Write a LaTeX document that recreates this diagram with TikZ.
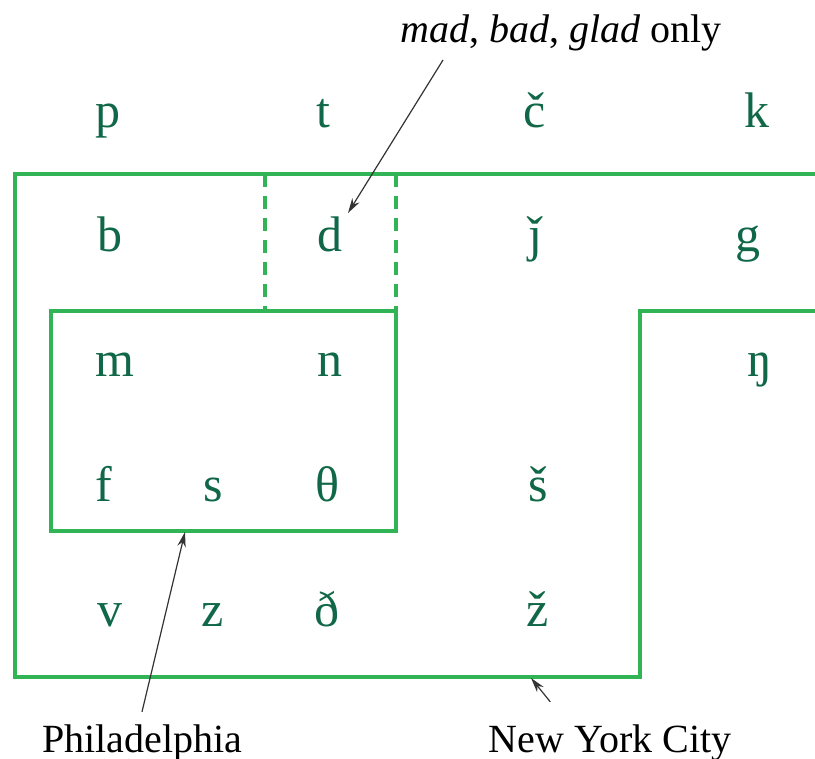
\documentclass[tikz,border=0pt]{standalone}
\usepackage{fontspec}
\setmainfont{Liberation Serif}
\usetikzlibrary{arrows.meta}
\definecolor{regiongreen}{RGB}{48,180,86}
\definecolor{phongreen}{RGB}{16,104,72}

\begin{document}
\begin{tikzpicture}[
  x=0.5pt, y=-0.5pt,
  >={Stealth[length=7.5pt,width=4.2pt]},
  phon/.style={text=phongreen, anchor=base, inner sep=0pt, font=\fontsize{25}{30}\selectfont},
  border/.style={draw=regiongreen, line width=1.7pt},
  gap/.style={border, dash pattern=on 6.5pt off 4.5pt},
  lab/.style={anchor=base, inner sep=1pt, font=\fontsize{20}{24}\selectfont},
  ptr/.style={->, semithick, black!80}
]
\useasboundingbox (0,0) rectangle (815,759);

\draw[border] (815,174) -- (15,174) -- (15,677) -- (640,677) -- (640,311) -- (815,311);
\draw[border] (51,311) rectangle (396,531);
\draw[gap] (265,174) -- (265,311);
\draw[gap] (396,174) -- (396,311);

\node[phon] (p)   at (108,128) {p};
\node[phon] (t)   at (323,128) {t};
\node[phon] (cv)  at (535,128) {č};
\node[phon] (k)   at (757,128) {k};
\node[phon] (b)   at (110,252) {b};
\node[phon] (d)   at (330,252) {d};
\node[phon] (jv)  at (535,252) {ǰ};
\node[phon] (g)   at (748,252) {g};
\node[phon] (m)   at (115,377) {m};
\node[phon] (n)   at (330,377) {n};
\node[phon] (eng) at (760,377) {ŋ};
\node[phon] (f)   at (104,502) {f};
\node[phon] (s)   at (213,502) {s};
\node[phon] (th)  at (327,502) {θ};
\node[phon] (sv)  at (538,502) {š};
\node[phon] (v)   at (110,626) {v};
\node[phon] (z)   at (213,626) {z};
\node[phon] (eth) at (327,626) {ð};
\node[phon] (zv)  at (538,626) {ž};

\node[lab] (madnote) at (561,43) {\textit{mad}, \textit{bad}, \textit{glad} only};
\node[lab] (phila) at (142,752) {Philadelphia};
\node[lab] (nyc) at (610,752) {New York City};

\coordinate (dtip) at (348,213);
\coordinate (philtip) at (185,532);
\coordinate (nyctip) at (531,678);

\draw[ptr] (madnote.south west) ++(45,6) -- (dtip);
\draw[ptr] (phila.north) ++(0,-10) -- (philtip);
\draw[ptr] (nyc.north west) ++(64,-20) -- (nyctip);

\end{tikzpicture}
\end{document}
